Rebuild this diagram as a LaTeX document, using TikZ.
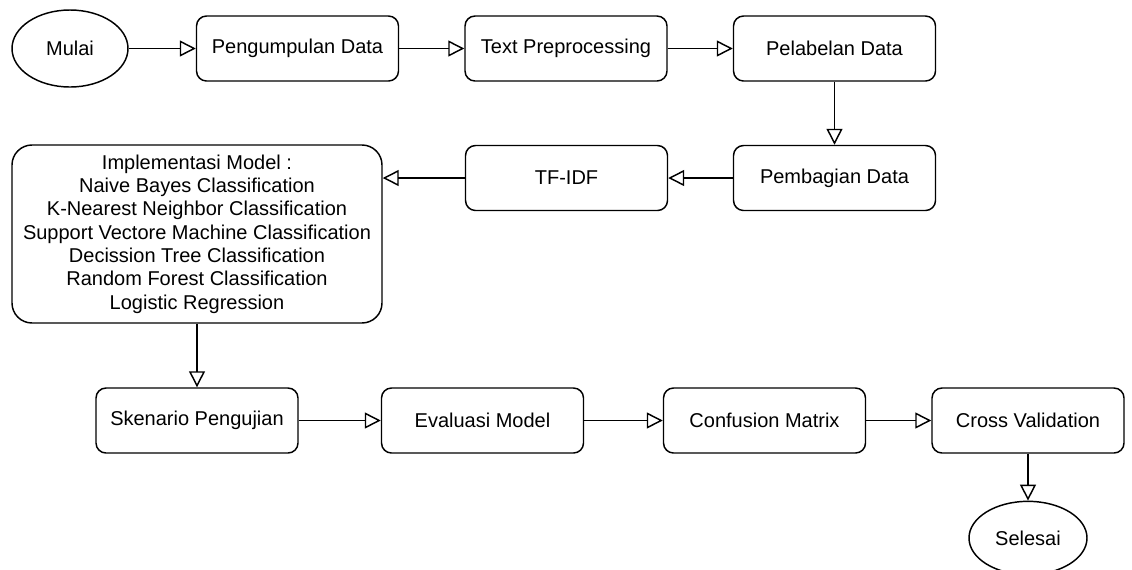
\documentclass[tikz,border=0pt]{standalone}
\usepackage{fontspec}
\setmainfont{Liberation Sans}
\usetikzlibrary{arrows.meta,shapes.geometric}

\tikzset{
  proses/.style={draw, rounded corners=7.5pt, line width=1.1pt, inner sep=0pt,
    minimum width=151.5pt, minimum height=48.75pt, align=center,
    font=\fontsize{15}{17.5}\selectfont},
  terminal/.style={draw, ellipse, line width=1.1pt, inner sep=0pt,
    minimum width=87pt, minimum height=57.75pt,
    font=\fontsize{15}{17.5}\selectfont},
  alur/.style={line width=1.1pt, -{Triangle[open,length=12pt,width=12pt]}}
}

\begin{document}
\begin{tikzpicture}[x=0.75pt,y=-0.75pt]
  \useasboundingbox (0,0) rectangle (1132,569);

  % baris pertama
  \node[terminal] (mulai) at (70,48.5) {Mulai};
  \node[proses] (kumpul) at (297.5,48.5) {Pengumpulan Data};
  \node[proses] (prepro) at (566,48.5) {Text Preprocessing};
  \node[proses] (label) at (834.5,48.5) {Pelabelan Data};

  % baris kedua
  \node[proses] (bagi) at (834.5,178) {Pembagian Data};
  \node[proses] (tfidf) at (566.5,178) {TF-IDF};
  \node[proses, rounded corners=15pt, minimum width=277.5pt, minimum height=133.5pt]
    (model) at (197,234) {Implementasi Model :\\Naive Bayes Classification\\
      K-Nearest Neighbor Classification\\Support Vectore Machine Classification\\
      Decission Tree Classification\\Random Forest Classification\\Logistic Regression};

  % baris ketiga
  \node[proses] (skenario) at (197,420.5) {Skenario Pengujian};
  \node[proses] (evaluasi) at (482.5,420.5) {Evaluasi Model};
  \node[proses] (confusion) at (764.5,420.5) {Confusion Matrix};
  \node[proses, minimum width=144pt] (cross) at (1028,420.5) {Cross Validation};
  \node[terminal, minimum width=88.5pt, minimum height=55pt] (selesai) at (1028,538) {Selesai};

  % alur
  \draw[alur] (mulai) -- (kumpul);
  \draw[alur] (kumpul) -- (prepro);
  \draw[alur] (prepro) -- (label);
  \draw[alur] (label) -- (bagi);
  \draw[alur] (bagi) -- (tfidf);
  \draw[alur] (tfidf.west) -- (tfidf.west -| model.east);
  \draw[alur] (model) -- (skenario);
  \draw[alur] (skenario) -- (evaluasi);
  \draw[alur] (evaluasi) -- (confusion);
  \draw[alur] (confusion) -- (cross);
  \draw[alur] (cross) -- (selesai);
\end{tikzpicture}
\end{document}
